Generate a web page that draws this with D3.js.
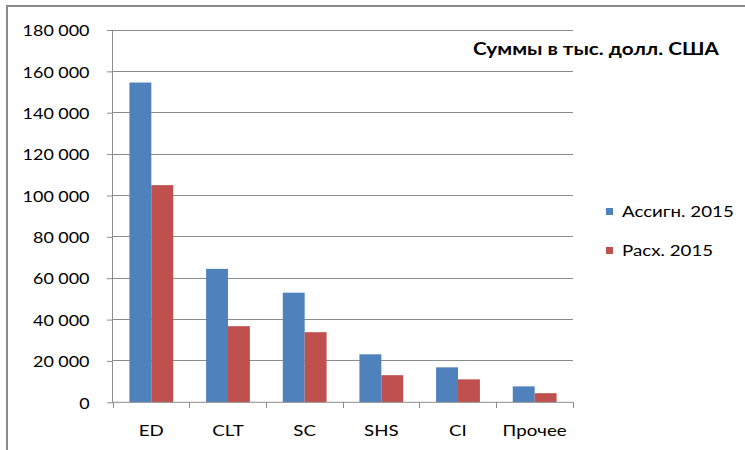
<!DOCTYPE html>
<html>
<head>
<meta charset="utf-8">
<script src="https://cdn.jsdelivr.net/npm/d3@7"></script>
<style>
  html, body { margin: 0; padding: 0; background: #fff; }
  svg { display: block; }
  text { font-family: Lato, "Open Sans", "Liberation Sans", sans-serif; fill: #000; }
</style>
</head>
<body>
<svg id="chart" width="745" height="450"></svg>
<script>
// Program areas and series
const categories = ["ED", "CLT", "SC", "SHS", "CI", "Прочее"];
const seriesNames = ["Ассигн. 2015", "Расх. 2015"];
const appropriations = [154600, 64500, 53000, 23200, 16900, 7700];
const expenditures = [105000, 36800, 33900, 13100, 11100, 4400];
const yTicks = [0, 20000, 40000, 60000, 80000, 100000, 120000, 140000, 160000, 180000];
const colors = ["#4F81BD", "#C0504D"];
const title = "Суммы в тыс. долл. США";

const svg = d3.select("#chart");
const W = 745, H = 450;
const plot = { left: 113, right: 573, top: 30, bottom: 402.3 };
const SX = 1.17;      // horizontal stretch of category / legend lettering
const SX_TICK = 1.12; // horizontal stretch of value-axis lettering
const SX_TITLE = 1.22;

const ru = d3.formatLocale({ decimal: ",", thousands: "\u00a0", grouping: [3], currency: ["", ""] });
const fmt = ru.format(",d");

// Chart frame (only left and top edges fall inside the canvas)
svg.append("rect")
  .attr("x", 7).attr("y", 6)
  .attr("width", W + 20).attr("height", H + 20)
  .attr("fill", "none").attr("stroke", "#8a8a8a").attr("stroke-width", 2);

const x = d3.scaleBand().domain(categories).range([plot.left, plot.right]).paddingInner(0).paddingOuter(0);
const xs = d3.scaleBand().domain(seriesNames).range([0, x.bandwidth()]).paddingInner(0).paddingOuter(0.75);
const y = d3.scaleLinear().domain([0, 180000]).range([plot.bottom, plot.top]);

// Horizontal gridlines
svg.append("g").selectAll("line")
  .data(yTicks.filter(d => d > 0))
  .join("line")
  .attr("x1", plot.left).attr("x2", plot.right)
  .attr("y1", d => y(d)).attr("y2", d => y(d))
  .attr("stroke", "#8c8c8c").attr("stroke-width", 1)
  .attr("shape-rendering", "crispEdges");

// Bars
const rows = categories.map((c, i) => ({ cat: c, vals: [appropriations[i], expenditures[i]] }));
svg.append("g").selectAll("g")
  .data(rows)
  .join("g")
  .attr("transform", d => `translate(${x(d.cat)},0)`)
  .selectAll("rect")
  .data(d => d.vals.map((v, j) => ({ s: seriesNames[j], v, j })))
  .join("rect")
  .attr("x", d => xs(d.s))
  .attr("width", xs.bandwidth())
  .attr("y", d => y(d.v))
  .attr("height", d => y(0) - y(d.v))
  .attr("fill", d => colors[d.j]);

// Y axis
const yAxis = d3.axisLeft(y).tickValues(yTicks).tickSize(6).tickPadding(18).tickFormat(fmt);
const gy = svg.append("g").attr("transform", `translate(${plot.left},0)`).call(yAxis);
gy.select(".domain").attr("stroke", "#8c8c8c").attr("d", `M-0.5,${plot.top}V${plot.bottom}`);
gy.selectAll(".tick line").attr("stroke", "#8c8c8c");
gy.selectAll(".tick text")
  .style("font-size", "16px")
  .attr("fill", "#111")
  .attr("dy", "0.36em")
  .attr("x", -23.5 / SX_TICK)
  .attr("transform", `scale(${SX_TICK},1)`);

// X axis: baseline, boundary ticks, centred labels
const gx = svg.append("g").attr("transform", `translate(0,${plot.bottom})`);
gx.append("line").attr("x1", plot.left).attr("x2", plot.right)
  .attr("stroke", "#8c8c8c").attr("stroke-width", 1);
const bounds = categories.map(c => x(c)).concat([x(categories[categories.length - 1]) + x.bandwidth()]);
gx.selectAll("line.b").data(bounds).join("line").attr("class", "b")
  .attr("x1", d => d).attr("x2", d => d).attr("y1", 0).attr("y2", 6)
  .attr("stroke", "#8c8c8c").attr("stroke-width", 1).attr("shape-rendering", "crispEdges");
gx.selectAll("text.cat").data(categories).join("text").attr("class", "cat")
  .attr("x", d => (x(d) + x.bandwidth() / 2) / SX)
  .attr("y", 34)
  .attr("text-anchor", "middle")
  .attr("transform", `scale(${SX},1)`)
  .style("font-size", "16px")
  .attr("fill", "#111")
  .text(d => d);

// Title
svg.append("text")
  .attr("x", 473 / SX_TITLE).attr("y", 55)
  .attr("transform", `scale(${SX_TITLE},1)`)
  .style("font-size", "17px").style("font-weight", "bold")
  .text(title);

// Legend
const lg = svg.append("g");
seriesNames.forEach((name, i) => {
  const ly = 211.5 + i * 39;
  lg.append("rect").attr("x", 606).attr("y", ly - 3.5).attr("width", 7).attr("height", 7).attr("fill", colors[i]);
  lg.append("text").attr("x", 622 / SX).attr("y", ly).attr("dy", "0.36em")
    .attr("transform", `scale(${SX},1)`)
    .style("font-size", "16px").attr("fill", "#111")
    .text(name);
});
</script>
</body>
</html>
